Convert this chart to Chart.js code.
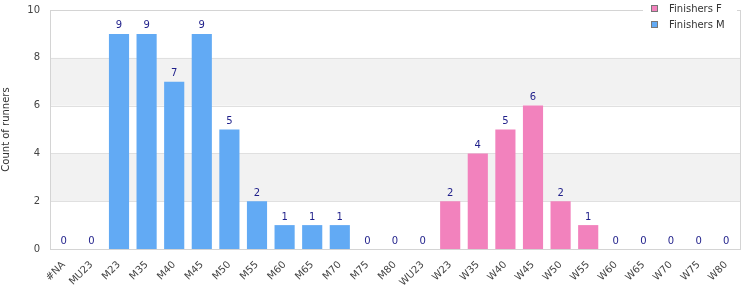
<!DOCTYPE html>
<html>
<head>
<meta charset="utf-8">
<script src="https://cdn.jsdelivr.net/npm/chart.js@4"></script>
<style>
  body { margin: 0; background: #fff; overflow: hidden; }
  #wrap { width: 750px; height: 306px; margin-top: -6px; }
</style>
</head>
<body>
<div id="wrap"><canvas id="mycanvas"></canvas></div>
<script>
var categories = ["#NA", "MU23", "M23", "M35", "M40", "M45", "M50", "M55", "M60", "M65", "M70", "M75", "M80",
  "WU23", "W23", "W35", "W40", "W45", "W50", "W55", "W60", "W65", "W70", "W75", "W80"];
var finishersM = [0, 0, 9, 9, 7, 9, 5, 2, 1, 1, 1, 0, 0,
  null, null, null, null, null, null, null, null, null, null, null, null];
var finishersF = [null, null, null, null, null, null, null, null, null, null, null, null, null,
  0, 2, 4, 5, 6, 2, 1, 0, 0, 0, 0, 0];
var yTicks = [0, 2, 4, 6, 8, 10];

var blue = "#62aaf4";
var pink = "#f282bd";

// bands + border behind the bars
var plotBack = {
  id: "plotBack",
  beforeDatasetsDraw: function(chart) {
    var ctx = chart.ctx, a = chart.chartArea, y = chart.scales.y;
    ctx.save();
    ctx.fillStyle = "#f2f2f2";
    for (var v = 2; v < 10; v += 4) {
      var top = y.getPixelForValue(v + 2), bot = y.getPixelForValue(v);
      ctx.fillRect(a.left, top, a.right - a.left, bot - top);
    }
    ctx.strokeStyle = "#e0e0e0";
    ctx.lineWidth = 1;
    for (var i = 0; i < yTicks.length; i++) {
      var py = Math.round(y.getPixelForValue(yTicks[i])) + 0.5;
      ctx.beginPath(); ctx.moveTo(a.left, py); ctx.lineTo(a.right, py); ctx.stroke();
    }
    ctx.strokeStyle = "#d4d4d4";
    ctx.strokeRect(Math.round(a.left) + 0.5, Math.round(a.top) + 0.5, Math.round(a.right - a.left), Math.round(a.bottom - a.top));
    ctx.restore();
  }
};

// value labels + legend box
var labelsAndLegend = {
  id: "labelsAndLegend",
  afterDatasetsDraw: function(chart) {
    var ctx = chart.ctx, a = chart.chartArea;
    ctx.save();
    ctx.font = "10px 'DejaVu Sans'";
    ctx.fillStyle = "#1f1f8a";
    ctx.textAlign = "center";
    ctx.textBaseline = "bottom";
    chart.data.datasets.forEach(function(ds, di) {
      var meta = chart.getDatasetMeta(di);
      meta.data.forEach(function(bar, i) {
        if (ds.data[i] === null) return;
        ctx.fillText(String(ds.data[i]), bar.x, bar.y - 3);
      });
    });
    // legend, sits over the top border
    var lx = Math.round(a.right) - 97;
    var ly = Math.round(a.top) - 10;
    ctx.fillStyle = "#fff";
    ctx.fillRect(lx, ly, 94, 32);
    var items = [["Finishers F", pink], ["Finishers M", blue]];
    ctx.textAlign = "left";
    ctx.textBaseline = "middle";
    for (var k = 0; k < items.length; k++) {
      var cy = ly + 8 + k * 16;
      ctx.fillStyle = items[k][1];
      ctx.fillRect(lx + 8, cy - 3, 7, 7);
      ctx.strokeStyle = "#777";
      ctx.lineWidth = 1;
      ctx.strokeRect(lx + 8.5, cy - 2.5, 6, 6);
      ctx.fillStyle = "#333";
      ctx.fillText(items[k][0], lx + 26, cy + 1);
    }
    ctx.restore();
  }
};

var ctx = document.getElementById("mycanvas");
var chart = new Chart(ctx, {
  type: "bar",
  data: {
    labels: categories,
    datasets: [
      { label: "Finishers F", data: finishersF, backgroundColor: pink, barPercentage: 0.73, categoryPercentage: 1 },
      { label: "Finishers M", data: finishersM, backgroundColor: blue, barPercentage: 0.73, categoryPercentage: 1 }
    ]
  },
  options: {
    responsive: true,
    maintainAspectRatio: false,
    animation: false,
    layout: { padding: { top: 0, right: 10, left: 0, bottom: 0 } },
    plugins: { legend: { display: false }, tooltip: { enabled: false } },
    scales: {
      x: {
        stacked: true,
        grid: { display: false, drawTicks: false },
        border: { display: false },
        afterFit: function(s) { s.height = 51; },
        ticks: { color: "#444", font: { family: "DejaVu Sans", size: 10 }, maxRotation: 45, minRotation: 45, padding: 10, autoSkip: false }
      },
      y: {
        stacked: true,
        min: 0, max: 10,
        afterBuildTicks: function(s) { s.ticks = yTicks.map(function(v) { return { value: v }; }); },
        afterFit: function(s) { s.width = 50; },
        grid: { display: false, drawTicks: false },
        border: { display: false },
        ticks: { color: "#444", font: { family: "DejaVu Sans", size: 10 }, padding: 10 },
        title: { display: true, text: "Count of runners", color: "#333", font: { family: "DejaVu Sans", size: 10 }, padding: { top: 0, bottom: 4 } }
      }
    }
  },
  plugins: [plotBack, labelsAndLegend]
});
</script>
</body>
</html>
